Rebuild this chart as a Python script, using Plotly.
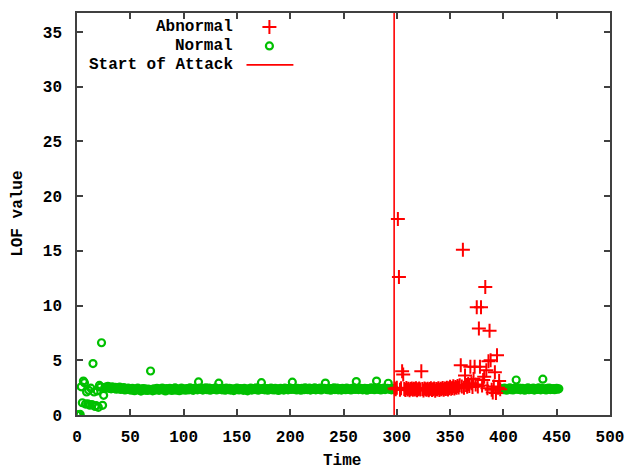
import plotly.graph_objects as go

# ---------------- data ----------------
normal_before_values = [
    0.0, 0.02, 0.0, 0.05, 2.57, 1.12, 3.1, 2.95, 1.0, 2.1, 1.02, 2.25, 0.9, 2.45,
    0.95, 4.7, 2.1, 0.78, 0.85, 2.2, 0.7, 2.7, 2.55, 6.6, 0.88, 1.8, 2.5,
    2.55, 2.48, 2.62, 2.44, 2.51, 2.39, 2.58, 2.46, 2.41, 2.53,
    2.36, 2.47, 2.42, 2.55, 2.33, 2.44, 2.38, 2.50, 2.29, 2.41,
    2.35, 2.46, 2.31, 2.40, 2.27, 2.43, 2.36, 2.22, 2.39, 2.32,
    2.45, 2.28, 2.37, 2.19, 2.34, 2.41, 2.26, 2.38, 2.30, 2.24,
    2.36, 2.29, 4.02, 2.33, 2.21, 2.40, 2.27, 2.35, 2.44, 2.31,
    2.25, 2.38, 2.32, 2.46, 2.28, 2.36, 2.20, 2.41, 2.34, 2.29,
    2.43, 2.37, 2.24, 2.39, 2.31, 2.47, 2.26, 2.35, 2.40, 2.22,
    2.33, 2.45, 2.29, 2.38, 2.34, 2.27, 2.42, 2.36, 2.30, 2.48,
    2.32, 2.39, 2.25, 2.44, 2.37, 2.41, 2.30, 3.02, 2.46, 2.35,
    2.40, 2.28, 2.43, 2.36, 2.49, 2.31, 2.38, 2.45, 2.27, 2.42,
    2.35, 2.40, 2.33, 2.47, 2.29, 2.38, 2.91, 2.36, 2.43, 2.30,
    2.41, 2.34, 2.26, 2.45, 2.37, 2.32, 2.44, 2.28, 2.39, 2.35,
    2.23, 2.40, 2.31, 2.46, 2.36, 2.29, 2.42, 2.34, 2.38, 2.25,
    2.43, 2.30, 2.37, 2.21, 2.39, 2.33, 2.45, 2.28, 2.36, 2.41,
    2.32, 2.47, 2.35, 2.27, 2.40, 2.38, 2.95, 2.34, 2.44, 2.30,
    2.37, 2.42, 2.26, 2.39, 2.33, 2.46, 2.31, 2.38, 2.29, 2.43,
    2.35, 2.40, 2.24, 2.37, 2.44, 2.32, 2.39, 2.28, 2.45, 2.36,
    2.41, 2.30, 2.38, 2.46, 2.34, 3.00, 2.42, 2.33, 2.37, 2.29,
    2.44, 2.36, 2.40, 2.27, 2.43, 2.35, 2.31, 2.47, 2.38, 2.32,
    2.39, 2.45, 2.28, 2.41, 2.36, 2.33, 2.48, 2.30, 2.42, 2.37,
    2.34, 2.46, 2.29, 2.40, 2.38, 2.44, 2.92, 2.35, 2.31, 2.43,
    2.37, 2.26, 2.41, 2.34, 2.47, 2.32, 2.39, 2.45, 2.30, 2.36,
    2.42, 2.28, 2.44, 2.35, 2.38, 2.31, 2.46, 2.40, 2.33, 2.37,
    2.29, 2.43, 2.36, 2.48, 2.34, 3.05, 2.39, 2.32, 2.45, 2.38,
    2.41, 2.30, 2.37, 2.44, 2.35, 2.27, 2.42, 2.39, 2.33, 2.47,
    2.36, 2.40, 2.31, 2.45, 3.10, 2.38, 2.34, 2.43, 2.29, 2.41,
    2.37, 2.46, 2.32, 2.39, 2.44, 2.90, 2.35, 2.41, 2.30, 2.38,
    2.43,
]
abnormal_values = [
    2.42, 2.35, 2.48, 17.9, 12.6, 2.31, 2.44, 4.0, 3.7, 2.38,
    2.29, 2.46, 2.33, 2.40, 2.25, 2.37, 2.43, 2.30, 2.39, 2.34,
    2.45, 2.27, 2.36, 2.41, 2.32, 4.0, 2.38, 2.24, 2.43, 2.35,
    2.30, 2.40, 2.26, 2.37, 2.44, 2.29, 2.36, 2.41, 2.22, 2.38,
    2.33, 2.45, 2.28, 2.39, 2.35, 2.47, 2.31, 2.42, 2.37, 2.50,
    2.34, 2.44, 2.58, 2.39, 2.46, 2.62, 2.41, 2.55, 2.48, 2.66,
    2.52, 2.71, 4.55, 2.60, 15.1, 2.48, 3.6, 2.75, 2.57, 2.83,
    2.64, 4.4, 2.9, 2.55, 3.3, 4.4, 2.78, 9.85, 2.6, 7.9,
    4.4, 9.85, 2.7, 3.2, 3.5, 11.7, 4.1, 2.45, 4.9, 7.7,
    5.0, 2.3, 2.05, 2.6, 3.9, 2.0, 5.45, 2.5, 3.1, 2.35,
]
normal_after_values = [
    2.36, 2.42, 2.31, 2.45, 2.38, 2.27, 2.40, 2.34, 2.47, 2.32,
    2.39, 2.29, 2.44, 2.36, 3.20, 2.41, 2.33, 2.46, 2.30, 2.38,
    2.43, 2.35, 2.26, 2.40, 2.37, 2.48, 2.31, 2.42, 2.34, 2.39,
    2.45, 2.28, 2.41, 2.36, 2.33, 2.47, 2.38, 2.30, 2.44, 3.27,
    2.35, 2.40, 2.29, 2.43, 2.37, 2.46, 2.32, 2.39, 2.34, 2.42,
    2.31, 2.38, 2.44, 2.36, 2.40,
]
normal_before_start = 0
abnormal_start = 298
normal_after_start = 398
attack_start = 297.5

x_ticks = [0, 50, 100, 150, 200, 250, 300, 350, 400, 450, 500]
y_ticks = [0, 5, 10, 15, 20, 25, 30, 35]
x_range = [0, 500]
y_range = [0, 36.73]

legend_labels = ["Abnormal", "Normal", "Start of Attack"]

# ---------------- derived ----------------
t_before = list(range(normal_before_start, normal_before_start + len(normal_before_values)))
t_abn = list(range(abnormal_start, abnormal_start + len(abnormal_values)))
t_after = list(range(normal_after_start, normal_after_start + len(normal_after_values)))

GREEN = "#00c000"
RED = "#ff0000"
FONT = "Liberation Mono"
AXC = "#404040"

fig = go.Figure()

green_marker = dict(symbol="circle-open", size=7, color=GREEN, line=dict(color=GREEN, width=2.2))
red_marker = dict(symbol="cross-thin-open", size=10, color=RED, line=dict(color=RED, width=2))

fig.add_trace(go.Scatter(x=t_before + t_after, y=normal_before_values + normal_after_values,
                         mode="markers", marker=green_marker, showlegend=False, hoverinfo="skip"))
fig.add_trace(go.Scatter(x=t_abn, y=abnormal_values, mode="markers",
                         marker=red_marker, showlegend=False, hoverinfo="skip"))
fig.add_trace(go.Scatter(x=[attack_start, attack_start], y=y_range, mode="lines",
                         line=dict(color=RED, width=1.6), showlegend=False, hoverinfo="skip"))

# legend samples (on a hidden overlay axis in [0,1] units)
fig.add_trace(go.Scatter(x=[0.361], y=[0.965], mode="markers", marker=red_marker,
                         xaxis="x2", yaxis="y2", showlegend=False, hoverinfo="skip"))
fig.add_trace(go.Scatter(x=[0.361], y=[0.918], mode="markers", marker=green_marker,
                         xaxis="x2", yaxis="y2", showlegend=False, hoverinfo="skip"))
fig.add_trace(go.Scatter(x=[0.318, 0.406], y=[0.871, 0.871], mode="lines",
                         line=dict(color=RED, width=1.6),
                         xaxis="x2", yaxis="y2", showlegend=False, hoverinfo="skip"))

annotations = []
for lbl, yy in zip(legend_labels, [0.965, 0.918, 0.871]):
    annotations.append(dict(text=lbl, x=0.297, y=yy, xref="paper", yref="paper",
                            xanchor="right", yanchor="middle", showarrow=False,
                            font=dict(family=FONT, size=16, color="black", weight="bold")))
annotations.append(dict(text="LOF value", x=-0.111, y=0.5, xref="paper", yref="paper",
                        textangle=-90, xanchor="center", yanchor="middle", showarrow=False,
                        font=dict(family=FONT, size=16, color="black", weight="bold")))
annotations.append(dict(text="Time", x=0.497, y=-0.1156, xref="paper", yref="paper",
                        xanchor="center", yanchor="middle", showarrow=False,
                        font=dict(family=FONT, size=16, color="black", weight="bold")))

tickfont = dict(family=FONT, size=16, color="black", weight="bold")

fig.update_layout(
    width=637, height=469,
    margin=dict(l=77, r=27, t=11, b=54),
    paper_bgcolor="white", plot_bgcolor="white",
    showlegend=False,
    annotations=annotations,
    xaxis=dict(range=x_range, tickmode="array", tickvals=x_ticks,
               ticks="inside", ticklen=6, tickwidth=1.5, tickcolor=AXC,
               showline=True, linecolor=AXC, linewidth=1.5, mirror="ticks",
               showgrid=False, zeroline=False, tickfont=tickfont, ticklabelstandoff=6),
    yaxis=dict(range=y_range, tickmode="array", tickvals=y_ticks,
               ticks="inside", ticklen=6, tickwidth=1.5, tickcolor=AXC,
               showline=True, linecolor=AXC, linewidth=1.5, mirror="ticks",
               showgrid=False, zeroline=False, tickfont=tickfont, ticklabelstandoff=10),
    xaxis2=dict(range=[0, 1], overlaying="x", visible=False, fixedrange=True),
    yaxis2=dict(range=[0, 1], overlaying="y", visible=False, fixedrange=True),
)

fig.write_html("out.html", config={"displayModeBar": False},
               post_script="document.body.style.margin='0';")
